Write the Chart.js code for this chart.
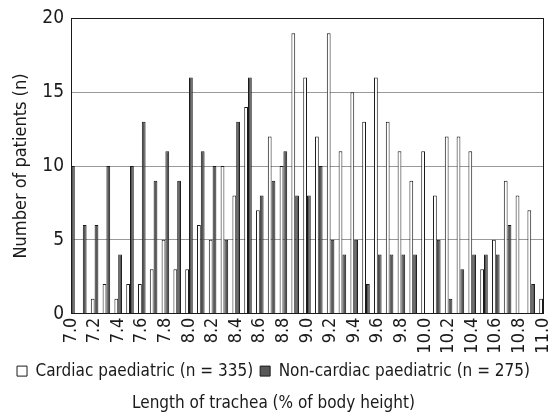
<!DOCTYPE html>
<html>
<head>
<meta charset="utf-8">
<script src="https://cdn.jsdelivr.net/npm/chart.js@4"></script>
<style>
  html, body { margin: 0; padding: 0; background: #fff; }
  #wrap { width: 549px; height: 420px; }
</style>
</head>
<body>
<div id="wrap"><canvas id="chart"></canvas></div>
<script>
// Length of trachea (% of body height), one bin per 0.1
const lengths = ["7.0","7.1","7.2","7.3","7.4","7.5","7.6","7.7","7.8","7.9",
  "8.0","8.1","8.2","8.3","8.4","8.5","8.6","8.7","8.8","8.9",
  "9.0","9.1","9.2","9.3","9.4","9.5","9.6","9.7","9.8","9.9",
  "10.0","10.1","10.2","10.3","10.4","10.5","10.6","10.7","10.8","10.9","11.0"];

const cardiac = [0, 0, 1, 2, 1, 2, 2, 3, 5, 3,
  3, 6, 5, 10, 8, 14, 7, 12, 10, 19,
  16, 12, 19, 11, 15, 13, 16, 13, 11, 9,
  11, 8, 12, 12, 11, 3, 5, 9, 8, 7, 1];

const nonCardiac = [10, 6, 6, 10, 4, 10, 13, 9, 11, 9,
  16, 11, 10, 5, 13, 16, 8, 9, 11, 8,
  8, 10, 5, 4, 5, 2, 4, 4, 4, 4,
  0, 5, 1, 3, 4, 4, 4, 6, 0, 2, 0];

const yTicks = [0, 5, 10, 15, 20];

const FONT = "'Liberation Sans Narrow', 'DejaVu Sans Condensed', 'Roboto', sans-serif";

// box around the plot area (top and right edges)
const frame = {
  id: "frame",
  afterDatasetsDraw: function (chart) {
    const a = chart.chartArea;
    const ctx = chart.ctx;
    ctx.save();
    ctx.strokeStyle = "#1a1a1a";
    ctx.lineWidth = 1;
    ctx.strokeRect(Math.round(a.left) + 0.5, Math.round(a.top) + 0.5,
      Math.round(a.right - a.left), Math.round(a.bottom - a.top));
    ctx.restore();
  },
};

new Chart(document.getElementById("chart"), {
  type: "bar",
  data: {
    labels: lengths,
    datasets: [
      {
        label: "Cardiac paediatric (n = 335)",
        data: cardiac,
        backgroundColor: "#ffffff",
        borderColor: "#1a1a1a",
        borderWidth: 1,
      },
      {
        label: "Non-cardiac paediatric (n = 275)",
        data: nonCardiac,
        backgroundColor: "#585858",
        borderColor: "#1a1a1a",
        borderWidth: 1,
      },
    ],
  },
  options: {
    responsive: true,
    maintainAspectRatio: false,
    animation: false,
    datasets: {
      bar: { categoryPercentage: 0.64, barPercentage: 1.0 },
    },
    layout: { padding: { left: 4, right: 6, top: 8, bottom: 3 } },
    plugins: {
      legend: {
        position: "bottom",
        labels: {
          color: "#1a1a1a",
          font: { family: FONT, size: 17 },
          boxWidth: 10,
          boxHeight: 10,
          padding: 7,
        },
      },
      title: {
        display: true,
        position: "bottom",
        text: "Length of trachea (% of body height)",
        color: "#1a1a1a",
        font: { family: FONT, size: 17, weight: "normal" },
        padding: { top: 4, bottom: 3 },
      },
      tooltip: { enabled: false },
    },
    scales: {
      x: {
        offset: false,
        grid: { display: false, offset: false, drawTicks: false },
        border: { color: "#1a1a1a" },
        afterFit: function (axis) {
          axis.height = 42;
          axis.paddingLeft = 0;
          axis.paddingRight = 0;
        },
        ticks: {
          autoSkip: false,
          minRotation: 90,
          maxRotation: 90,
          padding: 4,
          color: "#1a1a1a",
          font: { family: FONT, size: 18 },
          callback: function (value, index) {
            return index % 2 === 0 ? lengths[index] : "";
          },
        },
      },
      y: {
        min: 0,
        max: 20,
        afterBuildTicks: function (axis) {
          axis.ticks = yTicks.map(function (v) { return { value: v }; });
        },
        afterFit: function (axis) {
          axis.width = 67;
        },
        grid: { color: "#9a9a9a", drawTicks: false },
        border: { color: "#1a1a1a" },
        ticks: {
          padding: 7,
          color: "#1a1a1a",
          font: { family: FONT, size: 19 },
        },
        title: {
          display: true,
          text: "Number of patients (n)",
          color: "#1a1a1a",
          font: { family: FONT, size: 18 },
          padding: { top: 7, bottom: 4 },
        },
      },
    },
  },
  plugins: [frame],
});
</script>
</body>
</html>
